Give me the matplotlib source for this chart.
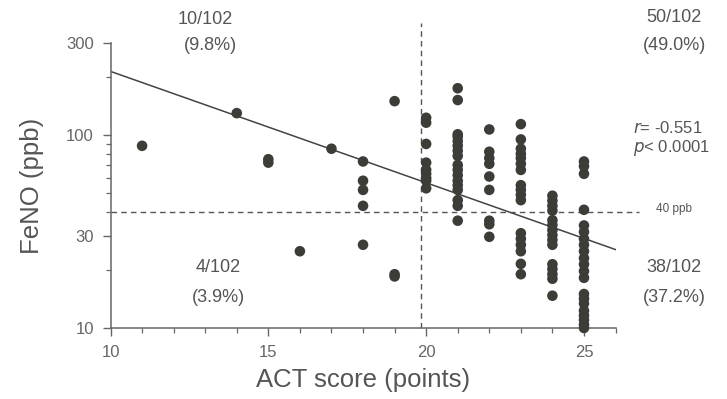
import matplotlib
matplotlib.use("Agg")
import matplotlib.pyplot as plt
import numpy as np
from matplotlib.ticker import FixedLocator, NullFormatter

# ACT score vs FeNO, one list of FeNO values per ACT score
act_scores = [11, 14, 15, 16, 17, 18, 19, 20, 21, 22, 23, 24, 25]
feno_by_score = [
    [88],
    [130],
    [75, 72],
    [25],
    [85],
    [73, 58, 52, 43, 27],
    [150, 19, 18.5],
    [123, 116, 90, 72, 66, 63, 60, 58, 53],
    [175, 152, 101, 98, 93, 88, 83, 78, 70, 66, 62, 58, 55, 52, 46, 43, 36],
    [107, 82, 76, 71, 61, 52, 36, 34.5, 29.7],
    [114, 95, 85, 80, 76, 71, 66, 55, 52, 49, 46, 31, 29, 27, 25, 21.5, 19],
    [48.5, 45.7, 43, 40.6, 36.2, 34.2, 32.2, 30.3, 28.6, 27, 21.4, 20.2, 19, 18, 14.7],
    [73, 69, 63, 41, 34, 31.5, 29, 27, 25, 23, 21.4, 19.7, 18.2, 15, 14.2,
     13.4, 12.3, 11.6, 11, 10.4, 10],
]
fit_x = [10, 26]
fit_y = [214, 25.5]
act_cut = 19.85
feno_cut = 40

x_ticks = [10, 15, 20, 25]
y_ticks = [10, 30, 100, 300]
y_minor = [20, 40, 50, 60, 70, 80, 90, 200]

TXT = "#555555"
DOT = "#3b3e37"
AX = "#666666"
plt.rcParams["font.family"] = ["Liberation Sans", "DejaVu Sans"]
NARROW = ["Liberation Sans Narrow", "Liberation Sans"]

xs = np.concatenate([[s] * len(v) for s, v in zip(act_scores, feno_by_score)])
ys = np.concatenate(feno_by_score)

fig = plt.figure(figsize=(7.27, 3.99), dpi=100)
ax = fig.add_axes([0.152, 0.178, 0.696, 0.714])

ax.scatter(xs, ys, s=58, color=DOT, edgecolors="none", zorder=3, clip_on=False)
ax.plot(fit_x, fit_y, color="#444444", lw=1.1, zorder=2)

ax.plot([act_cut, act_cut], [10, 380], ls=(0, (4, 3)), color="#555555",
        lw=1.0, clip_on=False)
ax.plot([10, 26.75], [feno_cut, feno_cut], ls=(0, (4, 3)), color="#555555",
        lw=1.0, clip_on=False)

ax.set_yscale("log")
ax.set_xlim(10, 26.03)
ax.set_ylim(10, 300)
ax.yaxis.set_major_locator(FixedLocator(y_ticks))
ax.yaxis.set_minor_locator(FixedLocator(y_minor))
ax.yaxis.set_minor_formatter(NullFormatter())
ax.set_yticklabels([str(t) for t in y_ticks], family=NARROW, fontsize=12, color="#666666")
ax.set_xticks(x_ticks)
ax.set_xticks(np.arange(10, 27, 1), minor=True)
ax.set_xticklabels([str(t) for t in x_ticks], family=NARROW, fontsize=12, color="#666666")

for s in ["top", "right"]:
    ax.spines[s].set_visible(False)
for s in ["left", "bottom"]:
    ax.spines[s].set_color(AX)
    ax.spines[s].set_linewidth(1.1)
ax.tick_params(which="major", direction="out", length=6, width=1.0, color=AX, pad=6)
ax.tick_params(which="minor", direction="out", length=3.5, width=0.9, color=AX)

ax.set_xlabel("ACT score (points)", fontsize=18.5, color=TXT, labelpad=6)
ax.set_ylabel("FeNO (ppb)", fontsize=18.5, color=TXT, labelpad=16)

def label(px, py, txt, size=13, ha="center"):
    fig.text(px / 727, 1 - py / 399, txt, fontsize=size, color=TXT, ha=ha, va="center")

label(205, 20, "10/102")
label(210, 46, "(9.8%)")
label(218, 268, "4/102")
label(218, 298, "(3.9%)")
label(674, 18, "50/102")
label(674, 46, "(49.0%)")
label(674, 268, "38/102")
label(674, 298, "(37.2%)")
label(633, 128, "$\\it{r}$= -0.551", size=12, ha="left")
label(633, 148, "$\\it{p}$< 0.0001", size=12, ha="left")
label(656, 209, "40 ppb", size=8.5, ha="left")

fig.savefig("out.png", dpi=100, facecolor="white")
